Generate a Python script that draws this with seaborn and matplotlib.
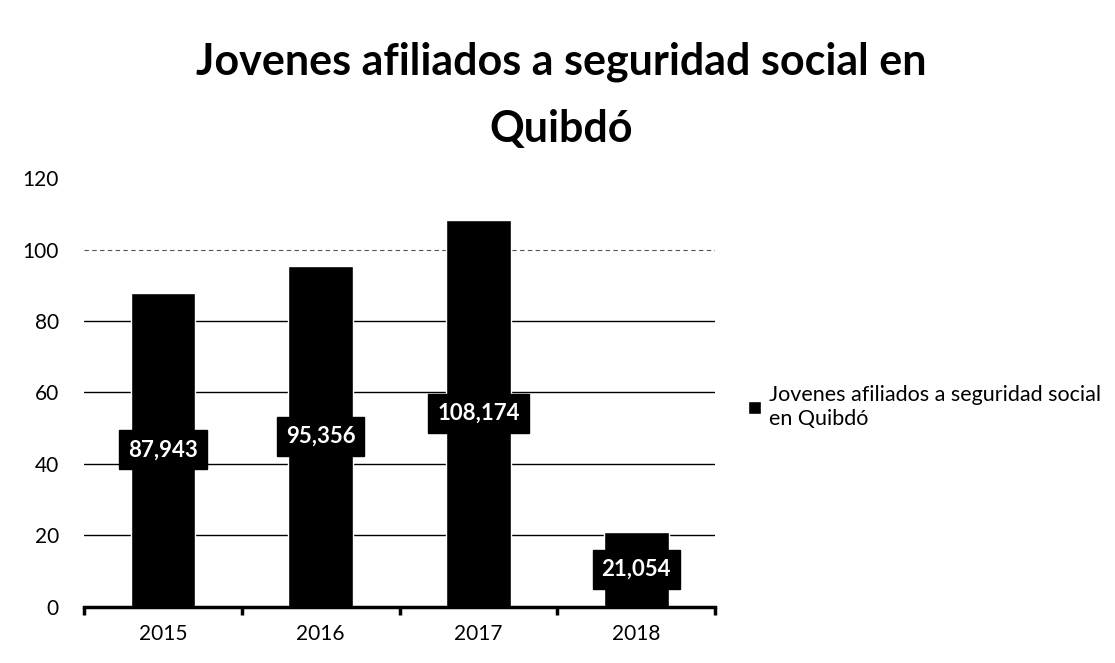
import matplotlib
matplotlib.use("Agg")
import matplotlib.pyplot as plt
import seaborn as sns
import pandas as pd
from matplotlib.ticker import FixedLocator

years = ["2015", "2016", "2017", "2018"]
afiliados = [87943, 95356, 108174, 21054]
y_ticks = [0, 20, 40, 60, 80, 100, 120]

sns.set_theme(style="white")
plt.rcParams["font.family"] = ["Lato", "DejaVu Sans"]
plt.rcParams["text.color"] = "black"
plt.rcParams["xtick.color"] = "black"
plt.rcParams["ytick.color"] = "black"

df = pd.DataFrame({"year": years, "miles": [v / 1000 for v in afiliados]})

fig = plt.figure(figsize=(11.15, 6.63), dpi=100)
ax = fig.add_axes([0.0753, 0.0845, 0.566, 0.647])

sns.barplot(data=df, x="year", y="miles", color="black", width=0.41,
            saturation=1, ax=ax, label="Jovenes afiliados a seguridad social\nen Quibdó")

ax.set_ylim(0, 120)
ax.set_xlim(-0.5, 3.5)
ax.set_yticks(y_ticks)
ax.set_yticklabels([str(t) for t in y_ticks], fontsize=15)
ax.set_xlabel("")
ax.set_ylabel("")
ax.tick_params(axis="x", which="major", length=0, labelsize=15, pad=12)
ax.tick_params(axis="y", length=0, pad=18)
ax.xaxis.set_minor_locator(FixedLocator([-0.5, 0.5, 1.5, 2.5, 3.5]))
ax.tick_params(axis="x", which="minor", bottom=True, direction="out",
               length=6, width=2.5, color="black")

for t in [20, 40, 60, 80]:
    ax.axhline(t, color="black", lw=1.0, zorder=0)
ax.axhline(100, color="#555555", lw=0.8, ls=(0, (4, 3)), zorder=0)

for side in ["top", "right", "left"]:
    ax.spines[side].set_visible(False)
ax.spines["bottom"].set_color("black")
ax.spines["bottom"].set_linewidth(2.5)

for i, v in enumerate(afiliados):
    ax.text(i, v / 1000 / 2, f"{v:,}", ha="center", va="center", color="white",
            fontsize=16, fontweight="bold",
            bbox=dict(boxstyle="square,pad=0.4", fc="black", ec="black"))

fig.suptitle("Jovenes afiliados a seguridad social en\nQuibdó", fontsize=31,
             fontweight="bold", x=0.503, y=0.937, linespacing=1.8)

leg = ax.legend(loc="center left", bbox_to_anchor=(0.671, 0.386),
                bbox_transform=fig.transFigure, frameon=False, fontsize=15.5,
                handlelength=0.6, handleheight=0.6, handletextpad=0.35,
                borderaxespad=0, borderpad=0, labelspacing=0.2)
for txt in leg.get_texts():
    txt.set_linespacing(1.3)

fig.savefig("out.png", dpi=100, facecolor="white")
